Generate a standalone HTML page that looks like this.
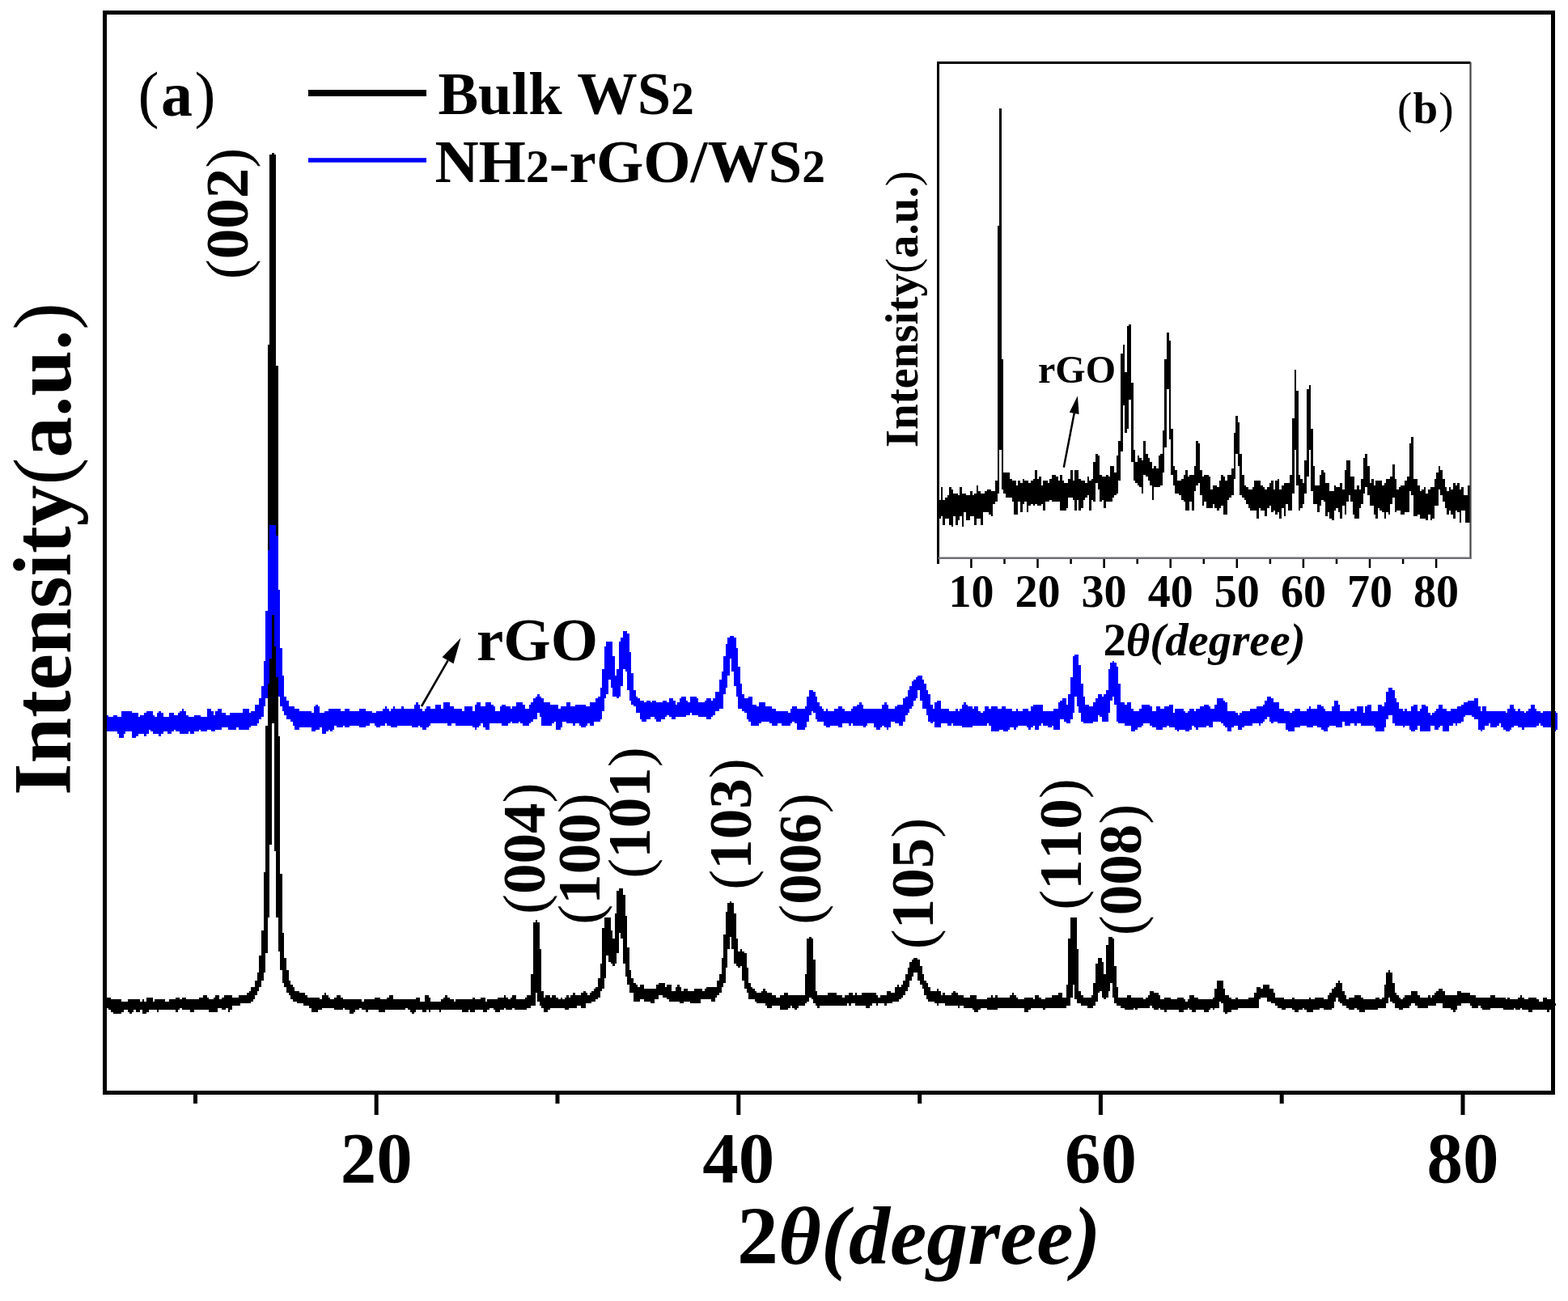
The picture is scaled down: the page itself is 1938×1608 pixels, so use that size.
<!DOCTYPE html>
<html><head><meta charset="utf-8"><title>XRD pattern</title><style>html,body{margin:0;padding:0;background:#fff;overflow:hidden}svg{display:block}</style></head><body>
<svg width="1938" height="1608" viewBox="0 0 1938 1608" font-family="'Liberation Serif','Times New Roman',serif" font-weight="bold" style="font-kerning:none">
<rect x="0" y="0" width="1938" height="1608" fill="#fff"/>
<path d="M335.9 188.6H338.5V191.2H335.9zM333.3 191.2H341.1V426.4H333.3zM330.8 426.4H341.1V452.2H330.8zM330.8 452.2H343.7V894.1H330.8zM330.8 894.1H335.9V896.6H330.8zM338.5 894.1H343.7V909.6H338.5zM328.2 896.6H335.9V1043.9H328.2zM338.5 909.6H346.3V1051.7H338.5zM328.2 1043.9H333.3V1077.5H328.2zM341.1 1051.7H346.3V1080.1H341.1zM764.9 1098.2H770V1100.8H764.9zM762.3 1100.8H770V1106H762.3zM901.8 1113.7H904.4V1116.3H901.8zM899.2 1116.3H907V1126.6H899.2zM762.3 1106H772.6V1129.2H762.3zM896.6 1126.6H907V1129.2H896.6zM759.7 1129.2H772.6V1131.8H759.7zM325.6 1077.5H333.3V1134.4H325.6zM341.1 1080.1H348.8V1134.4H341.1zM661.5 1137H664.1V1139.5H661.5zM746.8 1134.4H754.5V1147.3H746.8zM325.6 1134.4H330.8V1149.9H325.6zM744.2 1147.3H754.5V1149.9H744.2zM343.7 1134.4H348.8V1152.5H343.7zM759.7 1131.8H775.2V1152.5H759.7zM896.6 1129.2H909.6V1155H896.6zM894.1 1155H909.6V1157.6H894.1zM744.2 1149.9H757.1V1160.2H744.2zM759.7 1152.5H764.9V1160.2H759.7zM767.4 1152.5H775.2V1160.2H767.4zM904.4 1157.6H909.6V1160.2H904.4zM1000 1157.6H1002.6V1160.2H1000zM1323 1134.4H1330.8V1160.2H1323zM1369.5 1157.6H1374.7V1160.2H1369.5zM1369.5 1160.2H1377.3V1168H1369.5zM770 1160.2H775.2V1170.6H770zM658.9 1139.5H666.7V1173.1H658.9zM894.1 1157.6H901.8V1173.1H894.1zM904.4 1160.2H912.2V1173.1H904.4zM1320.4 1160.2H1330.8V1173.1H1320.4zM343.7 1152.5H351.4V1175.7H343.7zM907 1173.1H912.2V1175.7H907zM914.7 1173.1H917.3V1175.7H914.7zM323 1149.9H330.8V1178.3H323zM744.2 1160.2H764.9V1178.3H744.2zM907 1175.7H919.9V1178.3H907zM323 1178.3H328.2V1180.9H323zM744.2 1178.3H762.3V1180.9H744.2zM346.3 1175.7H351.4V1183.5H346.3zM894.1 1173.1H899.2V1183.5H894.1zM997.4 1160.2H1005.2V1186.1H997.4zM1129.2 1183.5H1134.4V1186.1H1129.2zM751.9 1180.9H762.3V1188.6H751.9zM1126.6 1186.1H1137V1188.6H1126.6zM1356.6 1183.5H1361.8V1188.6H1356.6zM744.2 1180.9H749.4V1191.2H744.2zM754.5 1188.6H762.3V1191.2H754.5zM770 1170.6H777.8V1191.2H770zM907 1178.3H922.5V1191.2H907zM1356.6 1188.6H1364.4V1191.2H1356.6zM757.1 1191.2H759.7V1193.8H757.1zM909.6 1191.2H922.5V1193.8H909.6zM1124 1188.6H1137V1193.8H1124zM1366.9 1168H1377.3V1193.8H1366.9zM891.5 1183.5H899.2V1196.4H891.5zM912.2 1193.8H914.7V1196.4H912.2zM917.3 1193.8H922.5V1196.4H917.3zM1124 1193.8H1139.5V1196.4H1124zM346.3 1183.5H354V1199H346.3zM772.6 1191.2H777.8V1199H772.6zM320.4 1180.9H328.2V1201.6H320.4zM1121.5 1196.4H1139.5V1201.6H1121.5zM1715.8 1199H1718.4V1201.6H1715.8zM658.9 1173.1H669.3V1204.1H658.9zM891.5 1196.4H896.6V1204.1H891.5zM997.4 1186.1H1007.8V1204.1H997.4zM1121.5 1201.6H1129.2V1204.1H1121.5zM1134.4 1201.6H1139.5V1204.1H1134.4zM1354 1191.2H1364.4V1204.1H1354zM1366.9 1193.8H1379.9V1204.1H1366.9zM772.6 1199H780.4V1206.7H772.6zM1118.9 1204.1H1129.2V1206.7H1118.9zM741.6 1191.2H749.4V1209.3H741.6zM775.2 1206.7H780.4V1209.3H775.2zM317.8 1201.6H325.6V1211.9H317.8zM348.8 1199H356.6V1211.9H348.8zM888.9 1204.1H896.6V1211.9H888.9zM917.3 1196.4H925.1V1211.9H917.3zM1118.9 1206.7H1126.6V1211.9H1118.9zM1134.4 1204.1H1142.1V1211.9H1134.4zM348.8 1211.9H359.2V1214.5H348.8zM775.2 1209.3H783V1214.5H775.2zM886.3 1211.9H896.6V1214.5H886.3zM919.9 1211.9H925.1V1214.5H919.9zM1137 1211.9H1144.7V1214.5H1137zM1354 1204.1H1379.9V1214.5H1354zM1653.8 1211.9H1656.3V1214.5H1653.8zM1713.2 1201.6H1720.9V1214.5H1713.2zM351.4 1214.5H359.2V1217.1H351.4zM775.2 1214.5H785.5V1217.1H775.2zM814 1214.5H821.7V1217.1H814zM1116.3 1211.9H1124V1217.1H1116.3zM1137 1214.5H1147.3V1217.1H1137zM1320.4 1173.1H1333.3V1217.1H1320.4zM1713.2 1214.5H1723.5V1217.1H1713.2zM315.2 1211.9H323V1219.6H315.2zM351.4 1217.1H361.8V1219.6H351.4zM739 1209.3H746.8V1219.6H739zM777.8 1217.1H788.1V1219.6H777.8zM790.7 1217.1H795.9V1219.6H790.7zM811.4 1217.1H821.7V1219.6H811.4zM824.3 1217.1H829.5V1219.6H824.3zM837.2 1217.1H839.8V1219.6H837.2zM886.3 1214.5H894.1V1219.6H886.3zM919.9 1214.5H927.7V1219.6H919.9zM1108.5 1217.1H1111.1V1219.6H1108.5zM1113.7 1217.1H1124V1219.6H1113.7zM1139.5 1217.1H1147.3V1219.6H1139.5zM1374.7 1214.5H1379.9V1219.6H1374.7zM1651.2 1214.5H1658.9V1219.6H1651.2zM736.4 1219.6H746.8V1222.2H736.4zM777.8 1219.6H795.9V1222.2H777.8zM811.4 1219.6H829.5V1222.2H811.4zM873.4 1219.6H891.5V1222.2H873.4zM919.9 1219.6H930.2V1222.2H919.9zM1139.5 1219.6H1149.9V1222.2H1139.5zM1503.9 1211.9H1511.6V1222.2H1503.9zM1553 1219.6H1558.2V1222.2H1553zM1560.7 1217.1H1568.5V1222.2H1560.7zM1648.6 1219.6H1658.9V1222.2H1648.6zM310.1 1219.6H320.4V1224.8H310.1zM354 1219.6H364.3V1224.8H354zM656.3 1204.1H669.3V1224.8H656.3zM733.9 1222.2H744.2V1224.8H733.9zM777.8 1222.2H829.5V1224.8H777.8zM834.6 1219.6H842.4V1224.8H834.6zM845 1222.2H850.1V1224.8H845zM857.9 1222.2H868.2V1224.8H857.9zM870.8 1222.2H891.5V1224.8H870.8zM922.5 1222.2H932.8V1224.8H922.5zM943.2 1222.2H945.7V1224.8H943.2zM994.8 1204.1H1007.8V1224.8H994.8zM1106 1219.6H1121.5V1224.8H1106zM1142.1 1222.2H1149.9V1224.8H1142.1zM1157.6 1222.2H1160.2V1224.8H1157.6zM1328.2 1217.1H1333.3V1224.8H1328.2zM1351.4 1214.5H1372.1V1224.8H1351.4zM1646 1222.2H1658.9V1224.8H1646zM1777.8 1222.2H1783V1224.8H1777.8zM307.5 1224.8H317.8V1227.4H307.5zM354 1224.8H369.5V1227.4H354zM656.3 1224.8H671.8V1227.4H656.3zM720.9 1224.8H723.5V1227.4H720.9zM731.3 1224.8H741.6V1227.4H731.3zM777.8 1224.8H891.5V1227.4H777.8zM922.5 1224.8H935.4V1227.4H922.5zM940.6 1224.8H948.3V1227.4H940.6zM1095.6 1224.8H1100.8V1227.4H1095.6zM1106 1224.8H1118.9V1227.4H1106zM1178.3 1224.8H1180.9V1227.4H1178.3zM1351.4 1224.8H1359.2V1227.4H1351.4zM1421.2 1224.8H1426.4V1227.4H1421.2zM1553 1222.2H1573.7V1227.4H1553zM1646 1224.8H1661.5V1227.4H1646zM1710.6 1217.1H1723.5V1227.4H1710.6zM1775.2 1224.8H1785.5V1227.4H1775.2zM1801 1224.8H1806.2V1227.4H1801zM304.9 1227.4H317.8V1230H304.9zM356.6 1227.4H377.3V1230H356.6zM400.5 1227.4H403.1V1230H400.5zM656.3 1227.4H661.5V1230H656.3zM708 1227.4H710.6V1230H708zM718.4 1227.4H726.1V1230H718.4zM728.7 1227.4H741.6V1230H728.7zM783 1227.4H888.9V1230H783zM925.1 1227.4H953.5V1230H925.1zM969 1227.4H974.2V1230H969zM994.8 1224.8H1010.3V1230H994.8zM1023.3 1227.4H1033.6V1230H1023.3zM1049.1 1227.4H1054.3V1230H1049.1zM1056.9 1227.4H1059.4V1230H1056.9zM1064.6 1227.4H1082.7V1230H1064.6zM1095.6 1227.4H1118.9V1230H1095.6zM1142.1 1224.8H1162.8V1230H1142.1zM1165.4 1227.4H1168V1230H1165.4zM1175.7 1227.4H1183.5V1230H1175.7zM1250.7 1227.4H1253.2V1230H1250.7zM1307.5 1227.4H1312.7V1230H1307.5zM1328.2 1224.8H1335.9V1230H1328.2zM1351.4 1227.4H1356.6V1230H1351.4zM1421.2 1227.4H1431.5V1230H1421.2zM1501.3 1222.2H1514.2V1230H1501.3zM1643.4 1227.4H1661.5V1230H1643.4zM1710.6 1227.4H1726.1V1230H1710.6zM1744.2 1224.8H1752V1230H1744.2zM1772.6 1227.4H1785.5V1230H1772.6zM1801 1227.4H1816.6V1230H1801zM250.6 1230H255.8V1232.6H250.6zM266.2 1230H271.3V1232.6H266.2zM276.5 1230H286.8V1232.6H276.5zM294.6 1230H315.2V1232.6H294.6zM359.2 1230H379.8V1232.6H359.2zM397.9 1230H405.7V1232.6H397.9zM416 1230H421.2V1232.6H416zM480.6 1230H485.8V1232.6H480.6zM524.6 1230H529.7V1232.6H524.6zM550.4 1230H553V1232.6H550.4zM622.7 1230H625.3V1232.6H622.7zM633.1 1230H638.2V1232.6H633.1zM651.2 1230H661.5V1232.6H651.2zM664.1 1227.4H671.8V1232.6H664.1zM674.4 1230H679.6V1232.6H674.4zM682.2 1230H687.3V1232.6H682.2zM700.3 1230H702.8V1232.6H700.3zM705.4 1230H741.6V1232.6H705.4zM819.1 1230H886.3V1232.6H819.1zM925.1 1230H958.7V1232.6H925.1zM963.8 1230H1041.4V1232.6H963.8zM1043.9 1230H1085.3V1232.6H1043.9zM1087.9 1230H1116.3V1232.6H1087.9zM1144.7 1230H1191.2V1232.6H1144.7zM1199 1230H1206.7V1232.6H1199zM1224.8 1230H1227.4V1232.6H1224.8zM1230 1230H1232.6V1232.6H1230zM1248.1 1230H1255.8V1232.6H1248.1zM1279.1 1230H1284.2V1232.6H1279.1zM1299.8 1230H1312.7V1232.6H1299.8zM1317.8 1217.1H1325.6V1232.6H1317.8zM1328.2 1230H1338.5V1232.6H1328.2zM1348.8 1230H1356.6V1232.6H1348.8zM1361.8 1224.8H1369.5V1232.6H1361.8zM1374.7 1219.6H1382.4V1232.6H1374.7zM1392.8 1230H1397.9V1232.6H1392.8zM1418.6 1230H1434.1V1232.6H1418.6zM1470.3 1230H1475.5V1232.6H1470.3zM1501.3 1230H1519.4V1232.6H1501.3zM1550.4 1227.4H1576.2V1232.6H1550.4zM1640.8 1230H1664.1V1232.6H1640.8zM1674.4 1230H1682.2V1232.6H1674.4zM1710.6 1230H1728.7V1232.6H1710.6zM1736.4 1230H1754.5V1232.6H1736.4zM1764.9 1230H1767.5V1232.6H1764.9zM1770 1230H1824.3V1232.6H1770zM1842.4 1230H1847.6V1232.6H1842.4zM1878.6 1230H1881.2V1232.6H1878.6zM131.8 1232.6H137V1235.2H131.8zM217.1 1232.6H222.2V1235.2H217.1zM224.8 1232.6H230V1235.2H224.8zM245.5 1232.6H258.4V1235.2H245.5zM263.6 1232.6H271.3V1235.2H263.6zM273.9 1232.6H315.2V1235.2H273.9zM359.2 1232.6H395.4V1235.2H359.2zM397.9 1232.6H408.3V1235.2H397.9zM413.4 1232.6H423.8V1235.2H413.4zM462.5 1232.6H470.3V1235.2H462.5zM478 1232.6H485.8V1235.2H478zM514.2 1232.6H519.4V1235.2H514.2zM547.8 1232.6H555.6V1235.2H547.8zM584 1232.6H586.6V1235.2H584zM594.3 1232.6H599.5V1235.2H594.3zM615 1232.6H627.9V1235.2H615zM630.5 1232.6H638.2V1235.2H630.5zM648.6 1232.6H661.5V1235.2H648.6zM664.1 1232.6H689.9V1235.2H664.1zM692.5 1232.6H695.1V1235.2H692.5zM697.7 1232.6H739V1235.2H697.7zM783 1230H814V1235.2H783zM824.3 1232.6H883.7V1235.2H824.3zM925.1 1232.6H1000V1235.2H925.1zM1002.6 1232.6H1113.7V1235.2H1002.6zM1144.7 1232.6H1206.7V1235.2H1144.7zM1219.6 1232.6H1258.4V1235.2H1219.6zM1266.2 1232.6H1276.5V1235.2H1266.2zM1279.1 1232.6H1286.8V1235.2H1279.1zM1292 1232.6H1323V1235.2H1292zM1328.2 1232.6H1356.6V1235.2H1328.2zM1364.4 1232.6H1366.9V1235.2H1364.4zM1377.3 1232.6H1413.4V1235.2H1377.3zM1416 1232.6H1434.1V1235.2H1416zM1439.3 1232.6H1447V1235.2H1439.3zM1454.8 1232.6H1462.5V1235.2H1454.8zM1470.3 1232.6H1480.6V1235.2H1470.3zM1498.7 1232.6H1522V1235.2H1498.7zM1527.1 1232.6H1529.7V1235.2H1527.1zM1542.6 1232.6H1558.2V1235.2H1542.6zM1565.9 1232.6H1586.6V1235.2H1565.9zM1596.9 1232.6H1599.5V1235.2H1596.9zM1617.6 1232.6H1620.2V1235.2H1617.6zM1625.3 1232.6H1635.7V1235.2H1625.3zM1640.8 1232.6H1651.2V1235.2H1640.8zM1653.8 1232.6H1664.1V1235.2H1653.8zM1666.7 1232.6H1684.8V1235.2H1666.7zM1700.3 1232.6H1705.4V1235.2H1700.3zM1708 1232.6H1715.8V1235.2H1708zM1718.4 1232.6H1731.3V1235.2H1718.4zM1733.9 1232.6H1860.5V1235.2H1733.9zM1863.1 1232.6H1865.6V1235.2H1863.1zM1876 1232.6H1883.7V1235.2H1876zM1888.9 1232.6H1899.2V1235.2H1888.9zM1907 1232.6H1912.2V1235.2H1907zM131.8 1235.2H149.9V1237.7H131.8zM157.6 1235.2H173.1V1237.7H157.6zM175.7 1235.2H178.3V1237.7H175.7zM180.9 1232.6H188.6V1237.7H180.9zM191.2 1235.2H204.1V1237.7H191.2zM209.3 1235.2H312.7V1237.7H209.3zM361.8 1235.2H447V1237.7H361.8zM449.6 1235.2H519.4V1237.7H449.6zM524.6 1232.6H532.3V1237.7H524.6zM545.2 1235.2H560.7V1237.7H545.2zM563.3 1235.2H599.5V1237.7H563.3zM602.1 1235.2H661.5V1237.7H602.1zM664.1 1235.2H736.4V1237.7H664.1zM783 1235.2H790.7V1237.7H783zM795.9 1235.2H808.8V1237.7H795.9zM826.9 1235.2H865.6V1237.7H826.9zM878.6 1235.2H883.7V1237.7H878.6zM932.8 1235.2H1000V1237.7H932.8zM1005.2 1235.2H1111.1V1237.7H1005.2zM1147.3 1235.2H1323V1237.7H1147.3zM1330.8 1235.2H1356.6V1237.7H1330.8zM1377.3 1235.2H1465.1V1237.7H1377.3zM1467.7 1235.2H1555.6V1237.7H1467.7zM1565.9 1235.2H1651.2V1237.7H1565.9zM1653.8 1235.2H1715.8V1237.7H1653.8zM1718.4 1235.2H1901.8V1237.7H1718.4zM1907 1235.2H1919.9V1237.7H1907zM129.2 1237.7H310.1V1240.3H129.2zM366.9 1237.7H661.5V1240.3H366.9zM666.7 1237.7H731.3V1240.3H666.7zM803.6 1237.7H808.8V1240.3H803.6zM839.8 1237.7H845V1240.3H839.8zM852.7 1237.7H865.6V1240.3H852.7zM935.4 1237.7H997.4V1240.3H935.4zM1005.2 1237.7H1103.4V1240.3H1005.2zM1155 1237.7H1323V1240.3H1155zM1330.8 1237.7H1354V1240.3H1330.8zM1377.3 1237.7H1506.5V1240.3H1377.3zM1509.1 1237.7H1555.6V1240.3H1509.1zM1571.1 1237.7H1648.6V1240.3H1571.1zM1656.3 1237.7H1715.8V1240.3H1656.3zM1720.9 1237.7H1919.9V1240.3H1720.9zM129.2 1240.3H297.2V1242.9H129.2zM374.7 1240.3H661.5V1242.9H374.7zM666.7 1240.3H723.5V1242.9H666.7zM945.7 1240.3H994.8V1242.9H945.7zM1007.8 1240.3H1046.5V1242.9H1007.8zM1049.1 1240.3H1051.7V1242.9H1049.1zM1056.9 1240.3H1077.5V1242.9H1056.9zM1082.7 1240.3H1085.3V1242.9H1082.7zM1093 1240.3H1095.6V1242.9H1093zM1157.6 1240.3H1160.2V1242.9H1157.6zM1168 1240.3H1323V1242.9H1168zM1335.9 1240.3H1354V1242.9H1335.9zM1379.9 1240.3H1506.5V1242.9H1379.9zM1576.2 1240.3H1648.6V1242.9H1576.2zM1658.9 1240.3H1713.2V1242.9H1658.9zM1723.5 1240.3H1744.2V1242.9H1723.5zM1749.4 1240.3H1775.2V1242.9H1749.4zM1783 1240.3H1806.2V1242.9H1783zM1816.6 1240.3H1922.5V1242.9H1816.6zM129.2 1242.9H286.8V1245.5H129.2zM382.4 1242.9H656.3V1245.5H382.4zM669.3 1242.9H713.2V1245.5H669.3zM718.4 1242.9H723.5V1245.5H718.4zM948.3 1242.9H953.5V1245.5H948.3zM963.8 1242.9H976.8V1245.5H963.8zM979.3 1242.9H987.1V1245.5H979.3zM1010.3 1242.9H1012.9V1245.5H1010.3zM1069.8 1242.9H1074.9V1245.5H1069.8zM1183.5 1242.9H1186.1V1245.5H1183.5zM1191.2 1242.9H1317.8V1245.5H1191.2zM1343.7 1242.9H1351.4V1245.5H1343.7zM1385 1242.9H1421.2V1245.5H1385zM1423.8 1242.9H1506.5V1245.5H1423.8zM1511.6 1240.3H1555.6V1245.5H1511.6zM1578.8 1242.9H1648.6V1245.5H1578.8zM1664.1 1242.9H1713.2V1245.5H1664.1zM1723.5 1242.9H1741.6V1245.5H1723.5zM1752 1242.9H1764.9V1245.5H1752zM1783 1242.9H1801V1245.5H1783zM1819.1 1242.9H1826.9V1245.5H1819.1zM1829.5 1242.9H1919.9V1245.5H1829.5zM134.4 1245.5H222.2V1248.1H134.4zM224.8 1245.5H268.7V1248.1H224.8zM273.9 1245.5H279.1V1248.1H273.9zM281.7 1245.5H286.8V1248.1H281.7zM385 1245.5H397.9V1248.1H385zM413.4 1245.5H423.8V1248.1H413.4zM426.4 1245.5H444.4V1248.1H426.4zM447 1245.5H501.3V1248.1H447zM503.9 1245.5H604.7V1248.1H503.9zM609.8 1245.5H622.7V1248.1H609.8zM625.3 1245.5H633.1V1248.1H625.3zM635.7 1245.5H651.2V1248.1H635.7zM671.8 1245.5H679.6V1248.1H671.8zM697.7 1245.5H702.8V1248.1H697.7zM963.8 1245.5H974.2V1248.1H963.8zM981.9 1245.5H984.5V1248.1H981.9zM1201.6 1245.5H1211.9V1248.1H1201.6zM1219.6 1245.5H1232.6V1248.1H1219.6zM1266.2 1245.5H1273.9V1248.1H1266.2zM1289.4 1245.5H1292V1248.1H1289.4zM1390.2 1245.5H1400.5V1248.1H1390.2zM1403.1 1245.5H1405.7V1248.1H1403.1zM1426.4 1245.5H1431.5V1248.1H1426.4zM1434.1 1245.5H1467.7V1248.1H1434.1zM1470.3 1245.5H1496.1V1248.1H1470.3zM1498.7 1245.5H1501.3V1248.1H1498.7zM1511.6 1245.5H1529.7V1248.1H1511.6zM1584 1245.5H1589.2V1248.1H1584zM1596.9 1245.5H1609.8V1248.1H1596.9zM1612.4 1245.5H1630.5V1248.1H1612.4zM1635.7 1245.5H1646V1248.1H1635.7zM1666.7 1245.5H1674.4V1248.1H1666.7zM1677 1245.5H1702.9V1248.1H1677zM1728.7 1245.5H1733.9V1248.1H1728.7zM1793.3 1245.5H1801V1248.1H1793.3zM1832.1 1245.5H1842.4V1248.1H1832.1zM1857.9 1245.5H1870.8V1248.1H1857.9zM1873.4 1245.5H1878.6V1248.1H1873.4zM1881.2 1245.5H1919.9V1248.1H1881.2zM137 1248.1H152.5V1250.7H137zM157.6 1248.1H165.4V1250.7H157.6zM168 1248.1H173.1V1250.7H168zM175.7 1248.1H183.5V1250.7H175.7zM193.8 1248.1H196.4V1250.7H193.8zM217.1 1248.1H219.6V1250.7H217.1zM235.1 1248.1H240.3V1250.7H235.1zM258.4 1248.1H268.7V1250.7H258.4zM281.7 1248.1H284.2V1250.7H281.7zM385 1248.1H392.8V1250.7H385zM431.5 1248.1H439.3V1250.7H431.5zM452.2 1248.1H454.8V1250.7H452.2zM467.7 1248.1H475.5V1250.7H467.7zM506.5 1248.1H514.2V1250.7H506.5zM522 1248.1H527.1V1250.7H522zM529.7 1248.1H532.3V1250.7H529.7zM542.6 1248.1H545.2V1250.7H542.6zM571.1 1248.1H578.8V1250.7H571.1zM581.4 1248.1H586.6V1250.7H581.4zM596.9 1248.1H602.1V1250.7H596.9zM612.4 1248.1H617.6V1250.7H612.4zM671.8 1248.1H677V1250.7H671.8zM1204.1 1248.1H1209.3V1250.7H1204.1zM1266.2 1248.1H1271.3V1250.7H1266.2zM1439.3 1248.1H1441.9V1250.7H1439.3zM1457.4 1248.1H1462.5V1250.7H1457.4zM1472.9 1248.1H1478V1250.7H1472.9zM1488.4 1248.1H1493.6V1250.7H1488.4zM1511.6 1248.1H1522V1250.7H1511.6zM1599.5 1248.1H1604.7V1250.7H1599.5zM1615 1248.1H1622.8V1250.7H1615zM1679.6 1248.1H1687.4V1250.7H1679.6zM1795.9 1248.1H1798.5V1250.7H1795.9zM1888.9 1248.1H1894.1V1250.7H1888.9zM1912.2 1248.1H1914.7V1250.7H1912.2zM139.5 1250.7H149.9V1253.2H139.5zM160.2 1250.7H162.8V1253.2H160.2zM175.7 1250.7H180.9V1253.2H175.7zM431.5 1250.7H436.7V1253.2H431.5zM509 1250.7H511.6V1253.2H509zM1514.2 1250.7H1516.8V1253.2H1514.2z" fill="#000" shape-rendering="crispEdges"/>
<path d="M333.3 648.6H341.1V661.5H333.3zM333.3 661.5H343.7V679.6H333.3zM330.8 679.6H343.7V728.7H330.8zM330.8 728.7H346.3V754.5H330.8zM328.2 754.5H346.3V759.7H328.2zM770 780.4H775.2V783H770zM770 783H777.8V788.1H770zM901.8 785.5H907V788.1H901.8zM767.4 788.1H777.8V793.3H767.4zM899.2 788.1H909.6V795.9H899.2zM338.5 759.7H346.3V798.5H338.5zM749.4 793.3H757.1V798.5H749.4zM341.1 798.5H346.3V801H341.1zM896.6 795.9H909.6V801H896.6zM764.9 793.3H777.8V806.2H764.9zM746.8 798.5H757.1V811.4H746.8zM896.6 801H912.2V811.4H896.6zM1328.2 808.8H1333.3V811.4H1328.2zM328.2 759.7H335.9V814H328.2zM894.1 811.4H912.2V814H894.1zM328.2 814H333.3V816.5H328.2zM1374.7 816.5H1377.3V819.1H1374.7zM1325.6 811.4H1333.3V821.7H1325.6zM904.4 814H912.2V824.3H904.4zM1372.1 819.1H1379.9V824.3H1372.1zM746.8 811.4H759.7V826.9H746.8zM764.9 806.2H780.4V826.9H764.9zM1372.1 824.3H1382.4V826.9H1372.1zM772.6 826.9H780.4V829.5H772.6zM894.1 814H901.8V829.5H894.1zM904.4 824.3H914.7V829.5H904.4zM775.2 829.5H780.4V832H775.2zM341.1 801H348.8V834.6H341.1zM744.2 826.9H759.7V834.6H744.2zM762.3 826.9H770V834.6H762.3zM891.5 829.5H901.8V834.6H891.5zM341.1 834.6H351.4V837.2H341.1zM1134.4 834.6H1139.5V837.2H1134.4zM1325.6 821.7H1335.9V837.2H1325.6zM744.2 834.6H770V839.8H744.2zM891.5 834.6H899.2V839.8H891.5zM1131.8 837.2H1139.5V839.8H1131.8zM1129.2 839.8H1142.1V842.4H1129.2zM325.6 816.5H333.3V845H325.6zM907 829.5H914.7V845H907zM1126.6 842.4H1142.1V845H1126.6zM1323 837.2H1335.9V845H1323zM1369.5 826.9H1382.4V845H1369.5zM325.6 845H330.8V847.6H325.6zM754.5 839.8H770V847.6H754.5zM907 845H917.3V847.6H907zM1126.6 845H1144.7V847.6H1126.6zM744.2 839.8H751.9V850.1H744.2zM754.5 847.6H767.4V850.1H754.5zM888.9 839.8H899.2V850.1H888.9zM775.2 832H783V852.7H775.2zM1124 847.6H1144.7V852.7H1124zM1369.5 845H1385V852.7H1369.5zM1715.8 850.1H1720.9V852.7H1715.8zM888.9 850.1H896.6V855.3H888.9zM1000 852.7H1005.2V855.3H1000zM1715.8 852.7H1723.5V855.3H1715.8zM741.6 850.1H751.9V857.9H741.6zM883.7 855.3H896.6V857.9H883.7zM909.6 847.6H917.3V857.9H909.6zM1137 852.7H1147.3V857.9H1137zM1323 845H1338.5V857.9H1323zM1366.9 852.7H1385V857.9H1366.9zM343.7 837.2H351.4V860.5H343.7zM664.1 857.9H666.7V860.5H664.1zM741.6 857.9H749.4V860.5H741.6zM757.1 850.1H767.4V860.5H757.1zM777.8 852.7H785.5V860.5H777.8zM909.6 857.9H919.9V860.5H909.6zM1000 855.3H1007.8V860.5H1000zM1121.5 852.7H1134.4V860.5H1121.5zM1320.4 857.9H1338.5V860.5H1320.4zM1356.6 857.9H1361.8V860.5H1356.6zM1364.4 857.9H1385V860.5H1364.4zM323 847.6H330.8V863.1H323zM661.5 860.5H669.3V863.1H661.5zM739 860.5H749.4V863.1H739zM762.3 860.5H764.9V863.1H762.3zM777.8 860.5H788.1V863.1H777.8zM842.4 860.5H847.6V863.1H842.4zM852.7 860.5H860.5V863.1H852.7zM883.7 857.9H894.1V863.1H883.7zM912.2 860.5H919.9V863.1H912.2zM925.1 860.5H930.2V863.1H925.1zM1118.9 860.5H1134.4V863.1H1118.9zM1356.6 860.5H1374.7V863.1H1356.6zM1565.9 860.5H1571.1V863.1H1565.9zM1713.2 855.3H1723.5V863.1H1713.2zM346.3 860.5H354V865.6H346.3zM777.8 863.1H790.7V865.6H777.8zM826.9 863.1H832V865.6H826.9zM839.8 863.1H847.6V865.6H839.8zM873.4 863.1H878.6V865.6H873.4zM881.1 863.1H894.1V865.6H881.1zM1116.3 863.1H1131.8V865.6H1116.3zM1137 857.9H1149.9V865.6H1137zM1312.7 863.1H1317.8V865.6H1312.7zM1354 863.1H1374.7V865.6H1354zM1503.9 863.1H1511.6V865.6H1503.9zM1565.9 863.1H1573.7V865.6H1565.9zM1821.7 863.1H1826.9V865.6H1821.7zM658.9 863.1H671.8V868.2H658.9zM736.4 863.1H746.8V868.2H736.4zM780.4 865.6H795.9V868.2H780.4zM798.5 865.6H803.6V868.2H798.5zM806.2 865.6H811.4V868.2H806.2zM819.1 865.6H824.3V868.2H819.1zM826.9 865.6H834.6V868.2H826.9zM839.8 865.6H850.1V868.2H839.8zM852.7 863.1H863.1V868.2H852.7zM870.8 865.6H894.1V868.2H870.8zM997.4 860.5H1010.3V868.2H997.4zM1157.6 865.6H1162.8V868.2H1157.6zM1310.1 865.6H1317.8V868.2H1310.1zM1354 865.6H1372.1V868.2H1354zM1377.3 860.5H1385V868.2H1377.3zM1503.9 865.6H1514.2V868.2H1503.9zM1563.3 865.6H1573.7V868.2H1563.3zM1713.2 863.1H1726.1V868.2H1713.2zM1814 865.6H1826.9V868.2H1814zM320.4 863.1H328.2V870.8H320.4zM514.2 868.2H516.8V870.8H514.2zM589.2 868.2H594.3V870.8H589.2zM599.5 868.2H607.2V870.8H599.5zM638.2 868.2H646V870.8H638.2zM656.3 868.2H679.6V870.8H656.3zM780.4 868.2H834.6V870.8H780.4zM837.2 868.2H894.1V870.8H837.2zM912.2 863.1H930.2V870.8H912.2zM1062 868.2H1064.6V870.8H1062zM1093 868.2H1095.6V870.8H1093zM1116.3 865.6H1129.2V870.8H1116.3zM1139.5 865.6H1149.9V870.8H1139.5zM1191.2 868.2H1193.8V870.8H1191.2zM1307.5 868.2H1317.8V870.8H1307.5zM1320.4 860.5H1328.2V870.8H1320.4zM1330.8 860.5H1341.1V870.8H1330.8zM1377.3 868.2H1390.2V870.8H1377.3zM1392.8 868.2H1397.9V870.8H1392.8zM1503.9 868.2H1516.8V870.8H1503.9zM1563.3 868.2H1581.4V870.8H1563.3zM1648.6 865.6H1653.8V870.8H1648.6zM1808.8 868.2H1826.9V870.8H1808.8zM315.2 870.8H328.2V873.4H315.2zM346.3 865.6H356.6V873.4H346.3zM390.2 870.8H392.8V873.4H390.2zM547.8 868.2H555.6V873.4H547.8zM586.6 870.8H594.3V873.4H586.6zM599.5 870.8H609.8V873.4H599.5zM620.2 870.8H625.3V873.4H620.2zM638.2 870.8H648.6V873.4H638.2zM700.3 868.2H705.4V873.4H700.3zM710.6 870.8H723.5V873.4H710.6zM728.7 868.2H746.8V873.4H728.7zM783 870.8H894.1V873.4H783zM912.2 870.8H935.4V873.4H912.2zM938 868.2H945.7V873.4H938zM997.4 868.2H1012.9V873.4H997.4zM1059.4 870.8H1067.2V873.4H1059.4zM1108.5 870.8H1129.2V873.4H1108.5zM1188.6 870.8H1196.4V873.4H1188.6zM1276.5 870.8H1289.4V873.4H1276.5zM1330.8 870.8H1346.3V873.4H1330.8zM1351.4 868.2H1372.1V873.4H1351.4zM1410.9 870.8H1421.2V873.4H1410.9zM1444.5 870.8H1449.6V873.4H1444.5zM1488.4 870.8H1493.6V873.4H1488.4zM1560.7 870.8H1581.4V873.4H1560.7zM1627.9 870.8H1633.1V873.4H1627.9zM1648.6 870.8H1656.3V873.4H1648.6zM1689.9 870.8H1695.1V873.4H1689.9zM1702.9 870.8H1708V873.4H1702.9zM1710.6 868.2H1728.7V873.4H1710.6zM1746.8 870.8H1752V873.4H1746.8zM1757.1 870.8H1762.3V873.4H1757.1zM1806.2 870.8H1826.9V873.4H1806.2zM348.8 873.4H364.3V876H348.8zM475.5 873.4H478V876H475.5zM485.8 873.4H488.4V876H485.8zM496.1 873.4H498.7V876H496.1zM511.6 870.8H519.4V876H511.6zM527.1 873.4H532.3V876H527.1zM537.5 870.8H545.2V876H537.5zM547.8 873.4H560.7V876H547.8zM617.6 873.4H630.5V876H617.6zM633.1 873.4H648.6V876H633.1zM653.8 870.8H689.9V876H653.8zM692.5 873.4H746.8V876H692.5zM785.5 873.4H894.1V876H785.5zM912.2 873.4H953.5V876H912.2zM979.3 873.4H984.5V876H979.3zM994.8 873.4H1015.5V876H994.8zM1036.2 873.4H1041.4V876H1036.2zM1054.3 873.4H1067.2V876H1054.3zM1090.4 870.8H1098.2V876H1090.4zM1106 873.4H1126.6V876H1106zM1139.5 870.8H1152.5V876H1139.5zM1155 868.2H1162.8V876H1155zM1188.6 873.4H1201.6V876H1188.6zM1204.1 873.4H1209.3V876H1204.1zM1217.1 873.4H1222.2V876H1217.1zM1224.8 873.4H1232.6V876H1224.8zM1237.7 873.4H1242.9V876H1237.7zM1307.5 870.8H1328.2V876H1307.5zM1379.9 870.8H1397.9V876H1379.9zM1410.9 873.4H1423.8V876H1410.9zM1429 873.4H1434.1V876H1429zM1439.3 873.4H1449.6V876H1439.3zM1483.2 873.4H1496.1V876H1483.2zM1501.3 870.8H1516.8V876H1501.3zM1553 873.4H1581.4V876H1553zM1617.6 873.4H1620.2V876H1617.6zM1627.9 873.4H1635.7V876H1627.9zM1702.9 873.4H1728.7V876H1702.9zM1757.1 873.4H1764.9V876H1757.1zM1777.8 870.8H1783V876H1777.8zM1801 873.4H1829.5V876H1801zM1865.6 870.8H1870.8V876H1865.6zM1891.5 870.8H1896.7V876H1891.5zM224.8 876H227.4V878.6H224.8zM255.8 876H261V878.6H255.8zM268.7 876H273.9V878.6H268.7zM315.2 873.4H325.6V878.6H315.2zM348.8 876H369.5V878.6H348.8zM405.7 876H421.2V878.6H405.7zM426.4 876H431.5V878.6H426.4zM444.4 876H452.2V878.6H444.4zM472.9 876H480.6V878.6H472.9zM483.2 876H522V878.6H483.2zM524.6 876H571.1V878.6H524.6zM573.6 873.4H584V878.6H573.6zM586.6 873.4H612.4V878.6H586.6zM617.6 876H746.8V878.6H617.6zM785.5 876H888.9V878.6H785.5zM917.3 876H958.7V878.6H917.3zM976.8 876H1018.1V878.6H976.8zM1020.7 876H1023.3V878.6H1020.7zM1031 876H1043.9V878.6H1031zM1051.7 876H1124V878.6H1051.7zM1144.7 876H1173.1V878.6H1144.7zM1180.9 876H1183.5V878.6H1180.9zM1186.1 876H1209.3V878.6H1186.1zM1217.1 876H1250.7V878.6H1217.1zM1255.8 876H1258.4V878.6H1255.8zM1263.6 876H1271.3V878.6H1263.6zM1273.9 873.4H1289.4V878.6H1273.9zM1302.3 876H1328.2V878.6H1302.3zM1379.9 876H1400.5V878.6H1379.9zM1408.3 876H1423.8V878.6H1408.3zM1429 876H1449.6V878.6H1429zM1452.2 876H1462.5V878.6H1452.2zM1470.3 876H1475.5V878.6H1470.3zM1478 876H1516.8V878.6H1478zM1545.2 876H1586.6V878.6H1545.2zM1599.5 876H1607.2V878.6H1599.5zM1615 876H1638.3V878.6H1615zM1646 873.4H1656.3V878.6H1646zM1669.3 876H1674.4V878.6H1669.3zM1677 873.4H1684.8V878.6H1677zM1687.4 873.4H1695.1V878.6H1687.4zM1702.9 876H1733.9V878.6H1702.9zM1736.4 876H1739V878.6H1736.4zM1744.2 873.4H1752V878.6H1744.2zM1754.5 876H1764.9V878.6H1754.5zM1775.2 876H1788.1V878.6H1775.2zM1793.3 876H1829.5V878.6H1793.3zM1832.1 873.4H1837.2V878.6H1832.1zM1863.1 876H1873.4V878.6H1863.1zM1876 876H1878.6V878.6H1876zM1888.9 876H1899.2V878.6H1888.9zM149.9 878.6H162.8V881.1H149.9zM180.9 878.6H188.6V881.1H180.9zM196.4 878.6H199V881.1H196.4zM222.2 878.6H230V881.1H222.2zM266.2 878.6H273.9V881.1H266.2zM299.7 876H307.5V881.1H299.7zM310.1 878.6H325.6V881.1H310.1zM351.4 878.6H385V881.1H351.4zM387.6 873.4H395.4V881.1H387.6zM400.5 878.6H460V881.1H400.5zM465.1 878.6H744.2V881.1H465.1zM785.5 878.6H883.7V881.1H785.5zM919.9 878.6H974.2V881.1H919.9zM976.8 878.6H1002.6V881.1H976.8zM1005.2 878.6H1124V881.1H1005.2zM1144.7 878.6H1211.9V881.1H1144.7zM1214.5 878.6H1328.2V881.1H1214.5zM1333.3 873.4H1372.1V881.1H1333.3zM1379.9 878.6H1449.6V881.1H1379.9zM1452.2 878.6H1465.1V881.1H1452.2zM1467.7 878.6H1527.1V881.1H1467.7zM1534.9 878.6H1594.3V881.1H1534.9zM1596.9 878.6H1684.8V881.1H1596.9zM1687.4 878.6H1764.9V881.1H1687.4zM1772.6 878.6H1860.5V881.1H1772.6zM1863.1 878.6H1883.7V881.1H1863.1zM1886.3 878.6H1904.4V881.1H1886.3zM1907 878.6H1922.5V881.1H1907zM178.3 881.1H188.6V883.7H178.3zM209.3 881.1H214.5V883.7H209.3zM219.6 881.1H230V883.7H219.6zM255.8 878.6H263.6V883.7H255.8zM266.2 881.1H279.1V883.7H266.2zM284.2 881.1H325.6V883.7H284.2zM351.4 881.1H664.1V883.7H351.4zM790.7 881.1H852.7V883.7H790.7zM855.3 881.1H883.7V883.7H855.3zM922.5 881.1H1002.6V883.7H922.5zM1007.8 881.1H1121.5V883.7H1007.8zM1144.7 881.1H1325.6V883.7H1144.7zM1335.9 881.1H1369.5V883.7H1335.9zM1379.9 881.1H1529.7V883.7H1379.9zM1532.3 881.1H1767.5V883.7H1532.3zM1770 881.1H1925.1V883.7H1770zM131.8 883.7H134.4V886.3H131.8zM139.5 883.7H144.7V886.3H139.5zM149.9 881.1H170.5V886.3H149.9zM173.1 883.7H191.2V886.3H173.1zM193.8 881.1H201.6V886.3H193.8zM209.3 883.7H232.6V886.3H209.3zM240.3 883.7H248.1V886.3H240.3zM255.8 883.7H325.6V886.3H255.8zM666.7 881.1H744.2V886.3H666.7zM790.7 883.7H824.3V886.3H790.7zM826.9 883.7H847.6V886.3H826.9zM863.1 883.7H881.1V886.3H863.1zM1359.2 883.7H1369.5V886.3H1359.2zM1379.9 883.7H1715.8V886.3H1379.9zM1720.9 883.7H1811.4V886.3H1720.9zM1819.1 883.7H1925.1V886.3H1819.1zM129.2 886.3H323V888.9H129.2zM354 883.7H664.1V888.9H354zM669.3 886.3H744.2V888.9H669.3zM790.7 886.3H803.6V888.9H790.7zM808.8 886.3H821.7V888.9H808.8zM829.5 886.3H834.6V888.9H829.5zM873.4 886.3H878.6V888.9H873.4zM922.5 883.7H1000V888.9H922.5zM1007.8 883.7H1118.9V888.9H1007.8zM1147.3 883.7H1325.6V888.9H1147.3zM1379.9 886.3H1565.9V888.9H1379.9zM1568.5 886.3H1715.8V888.9H1568.5zM1821.7 886.3H1925.1V888.9H1821.7zM359.2 888.9H658.9V891.5H359.2zM669.3 888.9H741.6V891.5H669.3zM793.3 888.9H798.5V891.5H793.3zM811.4 888.9H816.5V891.5H811.4zM925.1 888.9H1000V891.5H925.1zM1010.3 888.9H1118.9V891.5H1010.3zM1147.3 888.9H1310.1V891.5H1147.3zM1315.3 888.9H1323V891.5H1315.3zM1335.9 883.7H1356.6V891.5H1335.9zM1361.8 886.3H1369.5V891.5H1361.8zM1379.9 888.9H1563.3V891.5H1379.9zM1568.5 888.9H1713.2V891.5H1568.5zM1720.9 886.3H1808.8V891.5H1720.9zM129.2 888.9H320.4V894.1H129.2zM361.8 891.5H630.5V894.1H361.8zM633.1 891.5H640.8V894.1H633.1zM643.4 891.5H656.3V894.1H643.4zM669.3 891.5H684.8V894.1H669.3zM700.3 891.5H733.9V894.1H700.3zM927.7 891.5H940.6V894.1H927.7zM950.9 891.5H979.3V894.1H950.9zM981.9 891.5H997.4V894.1H981.9zM1018.1 891.5H1100.8V894.1H1018.1zM1106 891.5H1116.3V894.1H1106zM1149.9 891.5H1152.5V894.1H1149.9zM1155 891.5H1310.1V894.1H1155zM1317.8 891.5H1323V894.1H1317.8zM1338.5 891.5H1351.4V894.1H1338.5zM1382.4 891.5H1498.7V894.1H1382.4zM1509.1 891.5H1560.7V894.1H1509.1zM1571.1 891.5H1573.7V894.1H1571.1zM1578.8 891.5H1658.9V894.1H1578.8zM1661.5 891.5H1713.2V894.1H1661.5zM1720.9 891.5H1806.2V894.1H1720.9zM1826.9 888.9H1925.1V894.1H1826.9zM126.6 894.1H317.8V896.6H126.6zM361.8 894.1H457.4V896.6H361.8zM462.5 894.1H475.5V896.6H462.5zM478 894.1H532.3V896.6H478zM553 894.1H558.1V896.6H553zM563.3 894.1H594.3V896.6H563.3zM620.2 894.1H627.9V896.6H620.2zM646 894.1H653.8V896.6H646zM669.3 894.1H682.2V896.6H669.3zM708 894.1H710.6V896.6H708zM715.8 894.1H726.1V896.6H715.8zM728.7 894.1H733.9V896.6H728.7zM927.7 894.1H938V896.6H927.7zM953.5 894.1H961.2V896.6H953.5zM966.4 894.1H976.8V896.6H966.4zM1018.1 894.1H1041.4V896.6H1018.1zM1049.1 894.1H1051.7V896.6H1049.1zM1054.3 894.1H1072.4V896.6H1054.3zM1080.1 894.1H1100.8V896.6H1080.1zM1111.1 894.1H1116.3V896.6H1111.1zM1170.6 894.1H1175.7V896.6H1170.6zM1178.3 894.1H1219.6V896.6H1178.3zM1222.2 894.1H1286.8V896.6H1222.2zM1289.4 894.1H1310.1V896.6H1289.4zM1390.2 894.1H1413.4V896.6H1390.2zM1421.2 894.1H1498.7V896.6H1421.2zM1511.6 894.1H1547.8V896.6H1511.6zM1555.6 894.1H1558.2V896.6H1555.6zM1589.2 894.1H1658.9V896.6H1589.2zM1661.5 894.1H1669.3V896.6H1661.5zM1674.4 894.1H1677V896.6H1674.4zM1682.2 894.1H1713.2V896.6H1682.2zM1723.5 894.1H1795.9V896.6H1723.5zM1798.5 894.1H1801V896.6H1798.5zM1826.9 894.1H1839.8V896.6H1826.9zM1842.4 894.1H1852.7V896.6H1842.4zM1855.3 894.1H1901.8V896.6H1855.3zM1904.4 894.1H1925.1V896.6H1904.4zM129.2 896.6H310.1V899.2H129.2zM364.3 896.6H413.4V899.2H364.3zM416 896.6H423.8V899.2H416zM426.4 896.6H431.5V899.2H426.4zM444.4 896.6H452.2V899.2H444.4zM465.1 896.6H470.3V899.2H465.1zM483.2 896.6H491V899.2H483.2zM509 896.6H516.8V899.2H509zM519.4 896.6H529.7V899.2H519.4zM584 896.6H591.7V899.2H584zM596.9 894.1H604.7V899.2H596.9zM687.3 891.5H695.1V899.2H687.3zM718.4 896.6H723.5V899.2H718.4zM984.5 894.1H997.4V899.2H984.5zM1020.7 896.6H1025.8V899.2H1020.7zM1036.2 896.6H1041.4V899.2H1036.2zM1067.2 896.6H1069.8V899.2H1067.2zM1080.1 896.6H1090.4V899.2H1080.1zM1093 896.6H1100.8V899.2H1093zM1155 894.1H1162.8V899.2H1155zM1188.6 896.6H1201.6V899.2H1188.6zM1224.8 896.6H1258.4V899.2H1224.8zM1268.7 896.6H1276.5V899.2H1268.7zM1294.6 896.6H1299.8V899.2H1294.6zM1397.9 896.6H1410.9V899.2H1397.9zM1423.8 896.6H1441.9V899.2H1423.8zM1444.5 896.6H1472.9V899.2H1444.5zM1475.5 896.6H1491V899.2H1475.5zM1493.6 896.6H1498.7V899.2H1493.6zM1514.2 896.6H1524.6V899.2H1514.2zM1529.7 896.6H1537.5V899.2H1529.7zM1589.2 896.6H1607.2V899.2H1589.2zM1615 896.6H1622.8V899.2H1615zM1627.9 896.6H1643.4V899.2H1627.9zM1651.2 896.6H1658.9V899.2H1651.2zM1697.7 896.6H1713.2V899.2H1697.7zM1733.9 896.6H1736.4V899.2H1733.9zM1772.6 896.6H1780.4V899.2H1772.6zM1842.4 896.6H1850.1V899.2H1842.4zM1855.3 896.6H1870.8V899.2H1855.3zM1876 896.6H1899.2V899.2H1876zM1907 896.6H1925.1V899.2H1907zM129.2 899.2H273.9V901.8H129.2zM281.7 899.2H292V901.8H281.7zM294.6 899.2H307.5V901.8H294.6zM364.3 899.2H369.5V901.8H364.3zM385 899.2H395.4V901.8H385zM397.9 899.2H413.4V901.8H397.9zM522 899.2H527.1V901.8H522zM586.6 899.2H589.2V901.8H586.6zM599.5 899.2H604.7V901.8H599.5zM687.3 899.2H692.5V901.8H687.3zM984.5 899.2H994.8V901.8H984.5zM1082.7 899.2H1087.9V901.8H1082.7zM1095.6 899.2H1098.2V901.8H1095.6zM1224.8 899.2H1248.1V901.8H1224.8zM1253.2 899.2H1255.8V901.8H1253.2zM1271.3 899.2H1273.9V901.8H1271.3zM1279.1 896.6H1284.2V901.8H1279.1zM1302.3 896.6H1310.1V901.8H1302.3zM1397.9 899.2H1405.7V901.8H1397.9zM1429 899.2H1436.7V901.8H1429zM1452.2 899.2H1472.9V901.8H1452.2zM1478 899.2H1480.6V901.8H1478zM1529.7 899.2H1534.9V901.8H1529.7zM1589.2 899.2H1599.5V901.8H1589.2zM1633.1 899.2H1640.8V901.8H1633.1zM1741.6 896.6H1752V901.8H1741.6zM1772.6 899.2H1777.8V901.8H1772.6zM1826.9 896.6H1834.6V901.8H1826.9zM1857.9 899.2H1868.2V901.8H1857.9zM1881.2 899.2H1883.7V901.8H1881.2zM1917.3 899.2H1925.1V901.8H1917.3zM131.8 901.8H183.5V904.4H131.8zM186 901.8H214.5V904.4H186zM217.1 901.8H245.5V904.4H217.1zM248.1 901.8H255.8V904.4H248.1zM261 901.8H266.2V904.4H261zM385 901.8H390.2V904.4H385zM397.9 901.8H405.7V904.4H397.9zM408.3 901.8H410.9V904.4H408.3zM1224.8 901.8H1235.2V904.4H1224.8zM1240.3 901.8H1245.5V904.4H1240.3zM1397.9 901.8H1403.1V904.4H1397.9zM1454.8 901.8H1457.4V904.4H1454.8zM1465.1 901.8H1470.3V904.4H1465.1zM1516.8 899.2H1522V904.4H1516.8zM1591.7 901.8H1599.5V904.4H1591.7zM1635.7 901.8H1640.8V904.4H1635.7zM1700.3 899.2H1710.6V904.4H1700.3zM1744.2 901.8H1749.4V904.4H1744.2zM1754.5 896.6H1767.5V904.4H1754.5zM1783 896.6H1790.7V904.4H1783zM1829.5 901.8H1832.1V904.4H1829.5zM1860.5 901.8H1865.6V904.4H1860.5zM1917.3 901.8H1922.5V904.4H1917.3zM144.7 904.4H155V907H144.7zM162.8 904.4H183.5V907H162.8zM188.6 904.4H201.6V907H188.6zM206.7 904.4H211.9V907H206.7zM222.2 904.4H232.6V907H222.2zM235.1 904.4H240.3V907H235.1zM397.9 904.4H403.1V907H397.9zM162.8 907H170.5V909.6H162.8zM178.3 907H180.9V909.6H178.3zM196.4 907H199V909.6H196.4zM147.3 907H152.5V912.2H147.3zM162.8 909.6H168V912.2H162.8z" fill="#0000ff" shape-rendering="crispEdges"/>
<rect x="129.5" y="15.5" width="1790" height="1335" fill="none" stroke="#000" stroke-width="5"/>
<path d="M241.5 1353V1364 M465.2 1353V1378 M689.0 1353V1364 M912.8 1353V1378 M1136.7 1353V1364 M1360.4 1353V1378 M1584.2 1353V1364 M1808.0 1353V1378" stroke="#000" stroke-width="5" fill="none"/>
<text x="465.2" y="1461" font-size="89" text-anchor="middle">20</text>
<text x="912.8" y="1461" font-size="89" text-anchor="middle">40</text>
<text x="1360.4" y="1461" font-size="89" text-anchor="middle">60</text>
<text x="1808.0" y="1461" font-size="89" text-anchor="middle">80</text>
<text x="911" y="1562" font-size="102">2<tspan font-style="italic">θ(degree)</tspan></text>
<text transform="translate(86.8,983) rotate(-90)" font-size="101.5">Intensity<tspan font-weight="normal">(</tspan>a.u.<tspan font-weight="normal">)</tspan></text>
<line x1="381" y1="115" x2="527" y2="115" stroke="#000" stroke-width="8"/>
<line x1="381" y1="198" x2="527" y2="198" stroke="#0000ff" stroke-width="5.5"/>
<text x="541.4" y="141" font-size="74.5">Bulk WS<tspan font-size="57">2</tspan></text>
<text x="537.4" y="225" font-size="75">NH<tspan font-size="57.5">2</tspan>-rGO/WS<tspan font-size="57.5">2</tspan></text>
<text x="170.5" y="143" font-size="78" letter-spacing="2.5"><tspan font-weight="normal">(</tspan>a<tspan font-weight="normal">)</tspan></text>
<text transform="translate(305.5,345.3) rotate(-90)" font-size="75"><tspan font-weight="normal">(</tspan>002<tspan font-weight="normal">)</tspan></text>
<text transform="translate(673.4,1129.9) rotate(-90)" font-size="75"><tspan font-weight="normal">(</tspan>004<tspan font-weight="normal">)</tspan></text>
<text transform="translate(740.7,1142.7) rotate(-90)" font-size="75"><tspan font-weight="normal">(</tspan>100<tspan font-weight="normal">)</tspan></text>
<text transform="translate(803.4,1085.8) rotate(-90)" font-size="75"><tspan font-weight="normal">(</tspan>101<tspan font-weight="normal">)</tspan></text>
<text transform="translate(927.6,1099.8) rotate(-90)" font-size="75"><tspan font-weight="normal">(</tspan>103<tspan font-weight="normal">)</tspan></text>
<text transform="translate(1013.5,1142.7) rotate(-90)" font-size="75"><tspan font-weight="normal">(</tspan>006<tspan font-weight="normal">)</tspan></text>
<text transform="translate(1152.8,1173.3) rotate(-90)" font-size="75"><tspan font-weight="normal">(</tspan>105<tspan font-weight="normal">)</tspan></text>
<text transform="translate(1336.0,1124.7) rotate(-90)" font-size="75"><tspan font-weight="normal">(</tspan>110<tspan font-weight="normal">)</tspan></text>
<text transform="translate(1409.5,1156.2) rotate(-90)" font-size="75"><tspan font-weight="normal">(</tspan>008<tspan font-weight="normal">)</tspan></text>
<text x="589" y="815.5" font-size="75">rGO</text>
<line x1="521" y1="873" x2="553.6" y2="816.3" stroke="#000" stroke-width="2.6"/><path d="M569.5 788.5L560.5 820.2L546.6 812.3Z" fill="#000"/>
<path d="M1235.2 134.4H1237.7V279.1H1235.2zM1395.4 400.5H1397.9V403.1H1395.4zM1441.9 410.9H1444.5V421.2H1441.9zM1387.6 426.4H1390.2V436.7H1387.6zM1232.6 279.1H1237.7V444.4H1232.6zM1441.9 421.2H1447V444.4H1441.9zM1385 436.7H1390.2V460H1385zM1392.8 403.1H1397.9V460H1392.8zM1385 460H1397.9V472.9H1385zM1439.3 444.4H1447V480.6H1439.3zM1617.6 475.5H1620.2V480.6H1617.6zM1599.5 457.4H1602.1V483.2H1599.5zM1385 472.9H1400.5V493.5H1385zM1385 493.5H1395.4V501.3H1385zM1599.5 483.2H1604.7V516.8H1599.5zM1527.1 514.2H1529.7V522H1527.1zM1390.2 501.3H1395.4V529.7H1390.2zM1444.5 480.6H1447V529.7H1444.5zM1615 480.6H1620.2V529.7H1615zM1439.3 480.6H1441.9V532.3H1439.3zM1390.2 529.7H1392.8V534.9H1390.2zM1527.1 522H1532.3V534.9H1527.1zM1444.5 529.7H1449.6V542.6H1444.5zM1385 501.3H1387.6V545.2H1385zM1478 545.2H1480.6V547.8H1478zM1744.2 540.1H1746.8V547.8H1744.2zM1436.7 532.3H1441.9V553H1436.7zM1232.6 444.4H1240.3V555.6H1232.6zM1397.9 493.5H1400.5V555.6H1397.9zM1596.9 516.8H1604.7V555.6H1596.9zM1615 529.7H1622.8V555.6H1615zM1382.4 545.2H1387.6V558.1H1382.4zM1413.4 545.2H1416V560.7H1413.4zM1436.7 553H1439.3V560.7H1436.7zM1524.6 534.9H1532.3V560.7H1524.6zM1354 560.7H1356.6V563.3H1354zM1382.4 558.1H1385V563.3H1382.4zM1434.1 560.7H1439.3V563.3H1434.1zM1405.7 563.3H1408.3V565.9H1405.7zM1413.4 560.7H1418.6V565.9H1413.4zM1687.4 560.7H1689.9V565.9H1687.4zM1405.7 565.9H1410.9V568.5H1405.7zM1413.4 565.9H1421.2V568.5H1413.4zM1615 555.6H1617.6V568.5H1615zM1354 563.3H1359.2V571.1H1354zM1397.9 555.6H1403.1V571.1H1397.9zM1405.7 568.5H1421.2V571.1H1405.7zM1447 542.6H1449.6V576.2H1447zM1478 547.8H1483.2V576.2H1478zM1529.7 560.7H1534.9V576.2H1529.7zM1620.2 555.6H1622.8V576.2H1620.2zM1684.8 565.9H1689.9V576.2H1684.8zM1400.5 571.1H1423.8V578.8H1400.5zM1426.4 576.2H1429V578.8H1426.4zM1431.5 563.3H1439.3V578.8H1431.5zM1524.6 560.7H1527.1V578.8H1524.6zM1447 576.2H1452.2V581.4H1447zM1475.5 576.2H1483.2V581.4H1475.5zM1664.1 568.5H1669.3V581.4H1664.1zM1777.8 576.2H1780.4V581.4H1777.8zM1237.7 555.6H1240.3V584H1237.7zM1372.1 576.2H1377.3V584H1372.1zM1379.9 563.3H1385V584H1379.9zM1400.5 578.8H1439.3V584H1400.5zM1633.1 581.4H1635.7V584H1633.1zM1777.8 581.4H1783V584H1777.8zM1351.4 571.1H1359.2V586.6H1351.4zM1400.5 584H1436.7V586.6H1400.5zM1447 581.4H1454.8V586.6H1447zM1465.1 581.4H1467.7V586.6H1465.1zM1475.5 581.4H1485.8V586.6H1475.5zM1522 578.8H1527.1V586.6H1522zM1532.3 576.2H1534.9V586.6H1532.3zM1596.9 555.6H1599.5V586.6H1596.9zM1602.1 555.6H1604.7V586.6H1602.1zM1633.1 584H1638.3V586.6H1633.1zM1299.8 586.6H1304.9V589.2H1299.8zM1351.4 586.6H1361.8V589.2H1351.4zM1366.9 586.6H1369.5V589.2H1366.9zM1372.1 584H1385V589.2H1372.1zM1416 586.6H1436.7V589.2H1416zM1462.5 586.6H1467.7V589.2H1462.5zM1470.3 586.6H1485.8V589.2H1470.3zM1488.4 586.6H1493.6V589.2H1488.4zM1509.1 586.6H1511.6V589.2H1509.1zM1612.4 568.5H1617.6V589.2H1612.4zM1661.5 581.4H1669.3V589.2H1661.5zM1720.9 573.6H1723.5V589.2H1720.9zM1741.6 547.8H1746.8V589.2H1741.6zM1237.7 584H1248.1V591.7H1237.7zM1279.1 581.4H1281.7V591.7H1279.1zM1284.2 589.2H1286.8V591.7H1284.2zM1299.8 589.2H1307.5V591.7H1299.8zM1323 581.4H1325.6V591.7H1323zM1328.2 581.4H1333.3V591.7H1328.2zM1351.4 589.2H1385V591.7H1351.4zM1462.5 589.2H1496.1V591.7H1462.5zM1516.8 586.6H1527.1V591.7H1516.8zM1602.1 586.6H1607.2V591.7H1602.1zM1684.8 576.2H1692.5V591.7H1684.8zM1718.4 589.2H1723.5V591.7H1718.4zM1739 589.2H1746.8V591.7H1739zM1775.2 584H1783V591.7H1775.2zM1232.6 555.6H1235.2V594.3H1232.6zM1237.7 591.7H1250.7V594.3H1237.7zM1263.6 591.7H1266.2V594.3H1263.6zM1276.5 591.7H1286.8V594.3H1276.5zM1297.2 591.7H1307.5V594.3H1297.2zM1310.1 586.6H1312.7V594.3H1310.1zM1320.4 591.7H1325.6V594.3H1320.4zM1328.2 591.7H1335.9V594.3H1328.2zM1343.7 589.2H1346.3V594.3H1343.7zM1348.8 591.7H1385V594.3H1348.8zM1400.5 586.6H1413.4V594.3H1400.5zM1418.6 589.2H1436.7V594.3H1418.6zM1449.6 586.6H1454.8V594.3H1449.6zM1460 591.7H1496.1V594.3H1460zM1509.1 589.2H1514.2V594.3H1509.1zM1516.8 591.7H1524.6V594.3H1516.8zM1578.8 591.7H1581.4V594.3H1578.8zM1739 591.7H1752V594.3H1739zM1258.4 594.3H1261V596.9H1258.4zM1263.6 594.3H1271.3V596.9H1263.6zM1273.9 594.3H1286.8V596.9H1273.9zM1289.4 594.3H1294.6V596.9H1289.4zM1297.2 594.3H1315.3V596.9H1297.2zM1320.4 594.3H1341.1V596.9H1320.4zM1343.7 594.3H1382.4V596.9H1343.7zM1403.1 594.3H1413.4V596.9H1403.1zM1449.6 594.3H1496.1V596.9H1449.6zM1571.1 594.3H1573.7V596.9H1571.1zM1594.3 586.6H1599.5V596.9H1594.3zM1602.1 591.7H1609.8V596.9H1602.1zM1612.4 589.2H1615V596.9H1612.4zM1630.5 586.6H1638.3V596.9H1630.5zM1682.2 591.7H1692.5V596.9H1682.2zM1695.1 591.7H1697.7V596.9H1695.1zM1713.2 591.7H1726.1V596.9H1713.2zM1237.7 594.3H1255.8V599.5H1237.7zM1258.4 596.9H1286.8V599.5H1258.4zM1289.4 596.9H1354V599.5H1289.4zM1405.7 596.9H1413.4V599.5H1405.7zM1421.2 594.3H1436.7V599.5H1421.2zM1449.6 596.9H1480.6V599.5H1449.6zM1532.3 586.6H1537.5V599.5H1532.3zM1550.4 594.3H1558.2V599.5H1550.4zM1586.6 596.9H1599.5V599.5H1586.6zM1602.1 596.9H1615V599.5H1602.1zM1620.2 576.2H1625.3V599.5H1620.2zM1630.5 596.9H1643.4V599.5H1630.5zM1682.2 596.9H1697.7V599.5H1682.2zM1700.3 594.3H1708V599.5H1700.3zM1710.6 596.9H1726.1V599.5H1710.6zM1736.4 594.3H1752V599.5H1736.4zM1795.9 596.9H1798.5V599.5H1795.9zM1801 596.9H1803.6V599.5H1801zM1408.3 599.5H1413.4V602.1H1408.3zM1423.8 599.5H1434.1V602.1H1423.8zM1498.7 599.5H1503.9V602.1H1498.7zM1506.5 594.3H1524.6V602.1H1506.5zM1532.3 599.5H1540.1V602.1H1532.3zM1550.4 599.5H1560.7V602.1H1550.4zM1568.5 596.9H1573.7V602.1H1568.5zM1648.6 599.5H1651.2V602.1H1648.6zM1656.3 596.9H1658.9V602.1H1656.3zM1682.2 599.5H1726.1V602.1H1682.2zM1731.3 599.5H1754.5V602.1H1731.3zM1772.6 591.7H1785.5V602.1H1772.6zM1173.1 602.1H1175.7V604.7H1173.1zM1237.7 599.5H1354V604.7H1237.7zM1356.6 596.9H1382.4V604.7H1356.6zM1483.2 596.9H1496.1V604.7H1483.2zM1498.7 602.1H1524.6V604.7H1498.7zM1532.3 602.1H1542.6V604.7H1532.3zM1547.8 602.1H1563.3V604.7H1547.8zM1565.9 602.1H1573.7V604.7H1565.9zM1576.2 594.3H1581.4V604.7H1576.2zM1584 599.5H1599.5V604.7H1584zM1648.6 602.1H1658.9V604.7H1648.6zM1661.5 589.2H1674.4V604.7H1661.5zM1677 599.5H1679.6V604.7H1677zM1682.2 602.1H1687.4V604.7H1682.2zM1689.9 602.1H1726.1V604.7H1689.9zM1728.7 602.1H1754.5V604.7H1728.7zM1759.7 602.1H1762.3V604.7H1759.7zM1767.5 602.1H1788.1V604.7H1767.5zM1790.7 602.1H1793.3V604.7H1790.7zM1795.9 599.5H1803.6V604.7H1795.9zM1806.2 602.1H1808.8V604.7H1806.2zM1206.7 599.5H1209.3V607.2H1206.7zM1219.6 604.7H1224.8V607.2H1219.6zM1230 594.3H1235.2V607.2H1230zM1452.2 599.5H1478V607.2H1452.2zM1620.2 599.5H1643.4V607.2H1620.2zM1648.6 604.7H1687.4V607.2H1648.6zM1689.9 604.7H1754.5V607.2H1689.9zM1757.1 604.7H1762.3V607.2H1757.1zM1780.4 604.7H1788.1V607.2H1780.4zM1790.7 604.7H1808.8V607.2H1790.7zM1173.1 604.7H1178.3V609.8H1173.1zM1186.1 602.1H1188.6V609.8H1186.1zM1206.7 607.2H1211.9V609.8H1206.7zM1217.1 607.2H1235.2V609.8H1217.1zM1240.3 604.7H1354V609.8H1240.3zM1359.2 604.7H1382.4V609.8H1359.2zM1410.9 602.1H1413.4V609.8H1410.9zM1452.2 607.2H1475.5V609.8H1452.2zM1532.3 604.7H1599.5V609.8H1532.3zM1604.7 599.5H1615V609.8H1604.7zM1622.8 607.2H1687.4V609.8H1622.8zM1744.2 607.2H1762.3V609.8H1744.2zM1764.9 604.7H1777.8V609.8H1764.9zM1173.1 609.8H1183.5V612.4H1173.1zM1186.1 609.8H1193.8V612.4H1186.1zM1199 607.2H1201.6V612.4H1199zM1204.1 609.8H1232.6V612.4H1204.1zM1242.9 609.8H1354V612.4H1242.9zM1359.2 609.8H1379.9V612.4H1359.2zM1457.4 609.8H1475.5V612.4H1457.4zM1483.2 604.7H1524.6V612.4H1483.2zM1532.3 609.8H1596.9V612.4H1532.3zM1622.8 609.8H1684.8V612.4H1622.8zM1689.9 607.2H1741.6V612.4H1689.9zM1744.2 609.8H1777.8V612.4H1744.2zM1780.4 607.2H1808.8V612.4H1780.4zM1814 599.5H1816.6V612.4H1814zM1170.6 612.4H1232.6V615H1170.6zM1242.9 612.4H1343.7V615H1242.9zM1359.2 612.4H1377.3V615H1359.2zM1485.8 612.4H1522V615H1485.8zM1534.9 612.4H1596.9V615H1534.9zM1692.5 612.4H1741.6V615H1692.5zM1162.8 602.1H1165.4V617.6H1162.8zM1168 615H1232.6V617.6H1168zM1250.7 615H1320.4V617.6H1250.7zM1325.6 615H1341.1V617.6H1325.6zM1346.3 612.4H1354V617.6H1346.3zM1359.2 615H1374.7V617.6H1359.2zM1423.8 602.1H1426.4V617.6H1423.8zM1460 612.4H1475.5V617.6H1460zM1485.8 615H1519.4V617.6H1485.8zM1537.5 615H1596.9V617.6H1537.5zM1622.8 612.4H1666.7V617.6H1622.8zM1160.2 617.6H1232.6V620.2H1160.2zM1250.7 617.6H1297.2V620.2H1250.7zM1299.8 617.6H1320.4V620.2H1299.8zM1351.4 617.6H1354V620.2H1351.4zM1359.2 617.6H1361.8V620.2H1359.2zM1364.4 617.6H1374.7V620.2H1364.4zM1462.5 617.6H1475.5V620.2H1462.5zM1485.8 617.6H1516.8V620.2H1485.8zM1635.7 617.6H1666.7V620.2H1635.7zM1669.3 612.4H1684.8V620.2H1669.3zM1783 612.4H1816.6V620.2H1783zM1160.2 620.2H1230V622.7H1160.2zM1261 620.2H1266.2V622.7H1261zM1268.7 620.2H1292V622.7H1268.7zM1491 620.2H1516.8V622.7H1491zM1540.1 617.6H1596.9V622.7H1540.1zM1604.7 609.8H1612.4V622.7H1604.7zM1622.8 617.6H1633.1V622.7H1622.8zM1671.8 620.2H1684.8V622.7H1671.8zM1692.5 615H1720.9V622.7H1692.5zM1268.7 622.7H1273.9V625.3H1268.7zM1276.5 622.7H1279.1V625.3H1276.5zM1281.7 622.7H1286.8V625.3H1281.7zM1485.8 620.2H1488.4V625.3H1485.8zM1501.3 622.7H1516.8V625.3H1501.3zM1542.6 622.7H1589.2V625.3H1542.6zM1627.9 622.7H1633.1V625.3H1627.9zM1638.3 620.2H1664.1V625.3H1638.3zM1692.5 622.7H1718.4V625.3H1692.5zM1746.8 612.4H1777.8V625.3H1746.8zM1310.1 620.2H1320.4V627.9H1310.1zM1333.3 617.6H1338.5V627.9H1333.3zM1364.4 620.2H1366.9V627.9H1364.4zM1491 622.7H1498.7V627.9H1491zM1501.3 625.3H1509.1V627.9H1501.3zM1542.6 625.3H1568.5V627.9H1542.6zM1571.1 625.3H1589.2V627.9H1571.1zM1604.7 622.7H1609.8V627.9H1604.7zM1638.3 625.3H1658.9V627.9H1638.3zM1671.8 622.7H1682.2V627.9H1671.8zM1697.7 625.3H1718.4V627.9H1697.7zM1785.5 620.2H1816.6V627.9H1785.5zM1289.4 622.7H1292V630.5H1289.4zM1310.1 627.9H1317.8V630.5H1310.1zM1328.2 617.6H1330.8V630.5H1328.2zM1333.3 627.9H1335.9V630.5H1333.3zM1346.3 617.6H1348.8V630.5H1346.3zM1465.1 620.2H1470.3V630.5H1465.1zM1472.9 620.2H1475.5V630.5H1472.9zM1503.9 627.9H1506.5V630.5H1503.9zM1545.2 627.9H1555.6V630.5H1545.2zM1558.2 627.9H1565.9V630.5H1558.2zM1571.1 627.9H1584V630.5H1571.1zM1591.7 622.7H1596.9V630.5H1591.7zM1604.7 627.9H1607.2V630.5H1604.7zM1638.3 627.9H1651.2V630.5H1638.3zM1705.4 627.9H1718.4V630.5H1705.4zM1723.5 615H1741.6V630.5H1723.5zM1788.1 627.9H1816.6V630.5H1788.1zM1160.2 622.7H1227.4V633.1H1160.2zM1261 622.7H1263.6V633.1H1261zM1268.7 625.3H1271.3V633.1H1268.7zM1571.1 630.5H1573.7V633.1H1571.1zM1576.2 630.5H1584V633.1H1576.2zM1627.9 625.3H1630.5V633.1H1627.9zM1638.3 630.5H1648.6V633.1H1638.3zM1653.8 627.9H1658.9V633.1H1653.8zM1708 630.5H1718.4V633.1H1708zM1723.5 630.5H1726.1V633.1H1723.5zM1731.3 630.5H1741.6V633.1H1731.3zM1801 630.5H1806.2V633.1H1801zM1222.2 633.1H1227.4V635.7H1222.2zM1253.2 620.2H1258.4V635.7H1253.2zM1511.6 625.3H1516.8V635.7H1511.6zM1576.2 633.1H1578.8V635.7H1576.2zM1661.5 625.3H1664.1V635.7H1661.5zM1671.8 627.9H1679.6V635.7H1671.8zM1697.7 627.9H1702.9V635.7H1697.7zM1715.8 633.1H1718.4V635.7H1715.8zM1731.3 633.1H1736.4V635.7H1731.3zM1746.8 625.3H1772.6V635.7H1746.8zM1788.1 630.5H1790.7V635.7H1788.1zM1793.3 630.5H1798.5V635.7H1793.3zM1160.2 633.1H1191.2V638.2H1160.2zM1193.8 633.1H1214.5V638.2H1193.8zM1224.8 635.7H1227.4V638.2H1224.8zM1563.3 630.5H1565.9V638.2H1563.3zM1586.6 627.9H1589.2V638.2H1586.6zM1638.3 633.1H1640.8V638.2H1638.3zM1746.8 635.7H1752V638.2H1746.8zM1160.2 638.2H1162.8V640.8H1160.2zM1165.4 638.2H1178.3V640.8H1165.4zM1204.1 638.2H1214.5V640.8H1204.1zM1553 630.5H1555.6V640.8H1553zM1581.4 633.1H1584V640.8H1581.4zM1643.4 633.1H1648.6V640.8H1643.4zM1656.3 633.1H1658.9V640.8H1656.3zM1674.4 635.7H1679.6V640.8H1674.4zM1700.3 635.7H1702.9V640.8H1700.3zM1710.6 633.1H1713.2V640.8H1710.6zM1754.5 635.7H1764.9V640.8H1754.5zM1767.5 635.7H1772.6V640.8H1767.5zM1795.9 635.7H1798.5V640.8H1795.9zM1180.9 638.2H1186.1V643.4H1180.9zM1193.8 638.2H1199V643.4H1193.8zM1646 640.8H1648.6V643.4H1646zM1762.3 640.8H1764.9V643.4H1762.3zM1767.5 640.8H1770V643.4H1767.5zM1803.6 633.1H1806.2V646H1803.6zM1811.4 630.5H1816.6V646H1811.4zM1165.4 640.8H1168V648.6H1165.4zM1173.1 640.8H1178.3V648.6H1173.1zM1180.9 643.4H1183.5V648.6H1180.9zM1204.1 640.8H1206.7V648.6H1204.1zM1211.9 640.8H1214.5V648.6H1211.9zM1175.7 648.6H1178.3V651.2H1175.7zM1188.6 638.2H1191.2V651.2H1188.6z" fill="#000" shape-rendering="crispEdges"/>
<path d="M1159.5 77.5H1817.5M1159.5 76V697" stroke="#000" stroke-width="3" fill="none"/>
<path d="M1817.5 77V691" stroke="#444" stroke-width="2.2" fill="none"/>
<path d="M1159.5 689.8H1818.5" stroke="#6e6e76" stroke-width="2.6" fill="none"/>
<path d="M1200.4 691V702 M1241.5 691V697 M1282.5 691V702 M1323.6 691V697 M1364.6 691V702 M1405.7 691V697 M1446.7 691V702 M1487.8 691V697 M1528.8 691V702 M1569.9 691V697 M1610.9 691V702 M1652.0 691V697 M1693.0 691V702 M1734.1 691V697 M1775.1 691V702" stroke="#000" stroke-width="2.5" fill="none"/>
<text x="1200.4" y="750.2" font-size="56" text-anchor="middle">10</text>
<text x="1282.5" y="750.2" font-size="56" text-anchor="middle">20</text>
<text x="1364.6" y="750.2" font-size="56" text-anchor="middle">30</text>
<text x="1446.7" y="750.2" font-size="56" text-anchor="middle">40</text>
<text x="1528.8" y="750.2" font-size="56" text-anchor="middle">50</text>
<text x="1610.9" y="750.2" font-size="56" text-anchor="middle">60</text>
<text x="1693.0" y="750.2" font-size="56" text-anchor="middle">70</text>
<text x="1775.1" y="750.2" font-size="56" text-anchor="middle">80</text>
<text x="1363.4" y="810.4" font-size="56.8">2<tspan font-style="italic">θ(degree)</tspan></text>
<text transform="translate(1134.4,553.3) rotate(-90)" font-size="57">Intensity<tspan font-weight="normal">(</tspan>a.u.<tspan font-weight="normal">)</tspan></text>
<text x="1727" y="151.6" font-size="55" letter-spacing="1.2"><tspan font-weight="normal">(</tspan>b<tspan font-weight="normal">)</tspan></text>
<text x="1283" y="473.4" font-size="48">rGO</text>
<line x1="1314.8" y1="577.8" x2="1327.7" y2="510.8" stroke="#000" stroke-width="2.5"/><path d="M1331.9 489.2L1333.6 511.9L1321.8 509.7Z" fill="#000"/>
</svg>
</body></html>
